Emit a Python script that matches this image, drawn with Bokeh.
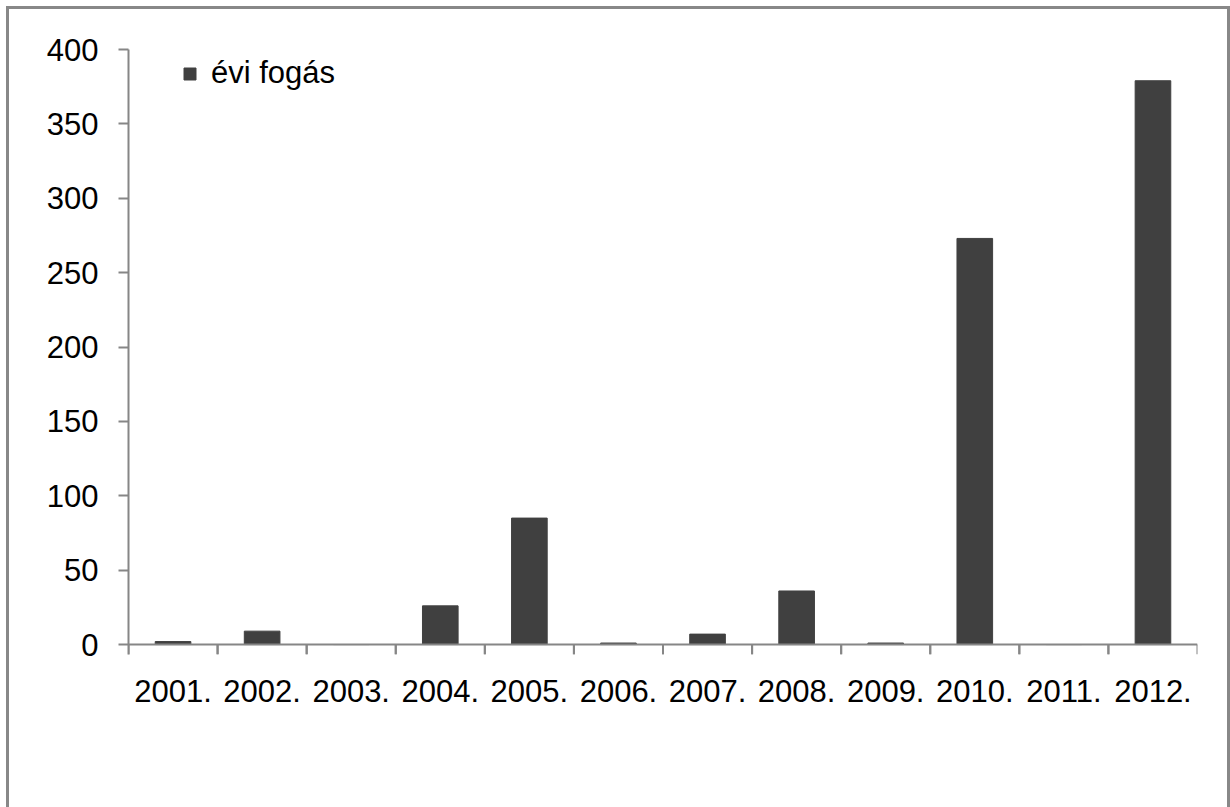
from bokeh.plotting import figure
from bokeh.models import (FactorRange, Range1d, FixedTicker, Legend, LegendItem,
                          Span, ColumnDataSource, InlineStyleSheet)
from bokeh.transform import dodge
from bokeh.embed import file_html
from bokeh.resources import INLINE

# ---- data ----
years = ["2001.", "2002.", "2003.", "2004.", "2005.", "2006.",
         "2007.", "2008.", "2009.", "2010.", "2011.", "2012."]
catch = [2, 9, 0, 26, 85, 1, 7, 36, 1, 273, 0, 379]
y_ticks = [0, 50, 100, 150, 200, 250, 300, 350, 400]
series_name = "évi fogás"

# ---- style ----
FONT = "Liberation Sans"
AXIS_COLOR = "#868686"
BAR_COLOR = "#404040"
TICK_LEN = 6.7  # data units below zero for the category-boundary ticks

src = ColumnDataSource(dict(year=years, catch=catch,
                            zero=[0] * len(years), low=[-TICK_LEN] * len(years)))

x_range = FactorRange(factors=years, range_padding=0)
p = figure(width=1230, height=807,
           x_range=x_range,
           y_range=Range1d(-TICK_LEN, y_ticks[-1]),
           output_backend="svg", toolbar_location=None,
           min_border_left=128, min_border_right=33,
           min_border_top=49, min_border_bottom=153)
p.outline_line_color = None
p.grid.visible = False
p.background_fill_color = "white"
p.border_fill_color = "white"

r = p.vbar(x="year", top="catch", width=0.4, source=src,
           fill_color=BAR_COLOR, line_color=BAR_COLOR)

# category boundary ticks (left edge of every category, right edge of the last)
p.segment(x0=dodge("year", -0.5, range=x_range), y0="zero",
          x1=dodge("year", -0.5, range=x_range), y1="low", source=src,
          line_color=AXIS_COLOR, line_width=2)
p.segment(x0=dodge("year", 0.5, range=x_range), y0="zero",
          x1=dodge("year", 0.5, range=x_range), y1="low", source=src,
          line_color=AXIS_COLOR, line_width=2)
p.add_layout(Span(location=0, dimension="width", line_color=AXIS_COLOR, line_width=2))

# y axis
yax = p.yaxis[0]
yax.ticker = FixedTicker(ticks=y_ticks)
yax.axis_line_color = AXIS_COLOR
yax.axis_line_width = 2
yax.major_tick_line_color = AXIS_COLOR
yax.major_tick_line_width = 2
yax.major_tick_out = 10
yax.major_tick_in = 0
yax.minor_tick_line_color = None
yax.major_label_text_font = FONT
yax.major_label_text_font_size = "31px"
yax.major_label_text_color = "black"
yax.major_label_standoff = 20

# x axis
xax = p.xaxis[0]
xax.axis_line_color = None
xax.major_tick_line_color = None
xax.major_tick_out = 0
xax.major_tick_in = 0
xax.major_label_text_font = FONT
xax.major_label_text_font_size = "31px"
xax.major_label_text_color = "black"
xax.major_label_standoff = 25

legend = Legend(items=[LegendItem(label=series_name, renderers=[r])],
                location=(54, 563), border_line_color=None,
                background_fill_alpha=0, padding=0, margin=0,
                glyph_width=15, glyph_height=15, label_standoff=14,
                label_text_font=FONT, label_text_font_size="31px",
                label_text_color="black")
p.add_layout(legend)

# outer chart frame (gray border around the chart area, open at the bottom edge of the window)
p.stylesheets = [InlineStyleSheet(css="""
:host { position: relative; }
:host::after {
  content: ""; position: absolute; left: 6px; top: 6px;
  width: 1224px; height: 900px; box-sizing: border-box;
  border: 3px solid #888888; pointer-events: none;
}
""")]

open("out.html", "w").write(file_html(p, INLINE))
